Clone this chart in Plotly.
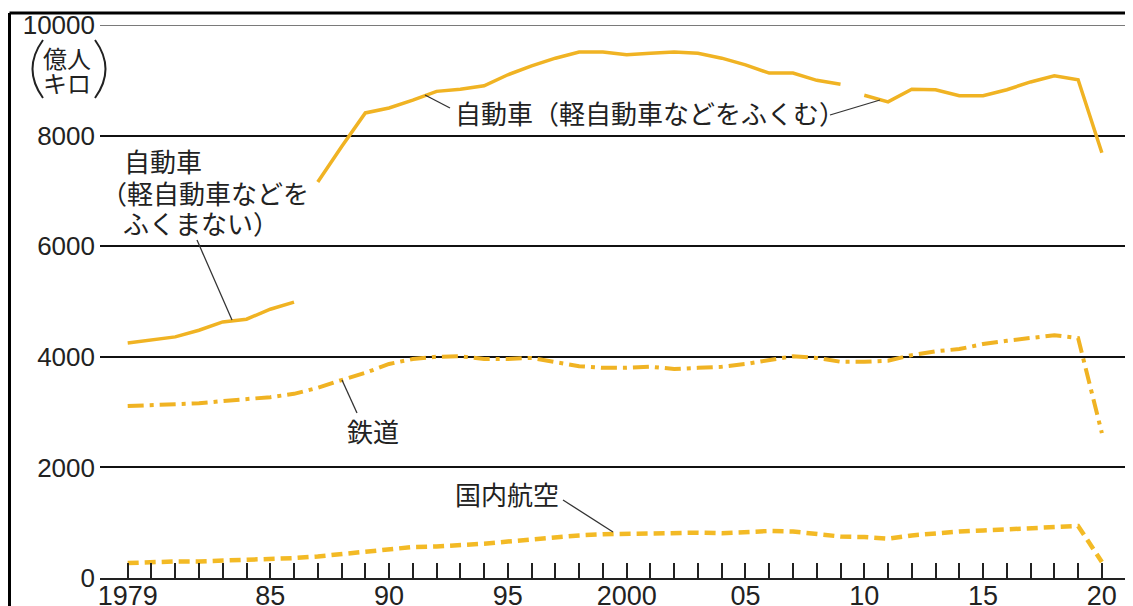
import plotly.graph_objects as go

# ---------------- data (億人キロ) ----------------
years = list(range(1979, 2021))

car_excl_years = list(range(1979, 1987))
car_excl = [4250, 4300, 4360, 4480, 4630, 4680, 4860, 4990]

car_incl_years_a = list(range(1987, 2010))
car_incl_a = [7160, 7800, 8410, 8500, 8640, 8800, 8840, 8900, 9100, 9260, 9400,
              9510, 9510, 9460, 9490, 9510, 9490, 9400, 9280, 9130, 9130, 9000, 8930]
car_incl_years_b = list(range(2010, 2021))
car_incl_b = [8730, 8610, 8840, 8830, 8720, 8720, 8830, 8970, 9080, 9010, 7690]

rail = [3110, 3130, 3150, 3160, 3200, 3240, 3270, 3330, 3440, 3580, 3710,
        3870, 3960, 4000, 4010, 3960, 3960, 3980, 3910, 3830, 3800, 3800,
        3820, 3780, 3800, 3820, 3870, 3940, 4010, 3980, 3910, 3910, 3930,
        4030, 4100, 4140, 4230, 4290, 4340, 4390, 4340, 2620]

air = [270, 290, 300, 300, 310, 320, 340, 360, 390, 430, 480,
       520, 560, 570, 590, 620, 660, 700, 740, 770, 790, 800,
       810, 830, 820, 810, 830, 850, 840, 800, 750, 740, 710,
       770, 810, 840, 860, 880, 910, 940, 940, 290]

x_tick_labels = {1979: "1979", 1985: "85", 1990: "90", 1995: "95", 2000: "2000",
                 2005: "05", 2010: "10", 2015: "15", 2020: "20"}
y_ticks = [0, 2000, 4000, 6000, 8000, 10000]

# ---------------- styling ----------------
BODY = 8                      # default page margin around the plot div
W, H = 1133 - BODY, 606 - BODY
PL, PT, PR, PB = 100, 25, 1129, 578   # plot area on screen
ML, MT = PL - BODY, PT - BODY
MR, MB = BODY + W - PR, BODY + H - PB
X0, X1 = 1977.834, 2021.142
PW, PH = PR - PL, PB - PT
CAR = "#F0B323"
RAIL = "#F0B323"
AIR = "#F3BA25"
TXT = "#222222"
JP = "Noto Sans CJK JP"


def dx(px):
    return X0 + (px - PL) / PW * (X1 - X0)


def dy(py):
    return (PB - py) / PH * 10000


def paper_x(px):
    return (px - PL) / PW


def paper_y(py):
    return (PB - py) / PH


fig = go.Figure()
fig.add_trace(go.Scatter(x=car_excl_years, y=car_excl, mode="lines",
                         line=dict(color=CAR, width=3.5), hoverinfo="skip"))
fig.add_trace(go.Scatter(x=car_incl_years_a, y=car_incl_a, mode="lines",
                         line=dict(color=CAR, width=3.5), hoverinfo="skip"))
fig.add_trace(go.Scatter(x=car_incl_years_b, y=car_incl_b, mode="lines",
                         line=dict(color=CAR, width=3.5), hoverinfo="skip"))
fig.add_trace(go.Scatter(x=years, y=rail, mode="lines",
                         line=dict(color=RAIL, width=4, dash="16px,6px,4px,6px"),
                         hoverinfo="skip"))
fig.add_trace(go.Scatter(x=years, y=air, mode="lines",
                         line=dict(color=AIR, width=4.5, dash="11px,6px"),
                         hoverinfo="skip"))

shapes = []
# top gridline grey
shapes.append(dict(type="line", xref="paper", yref="y", x0=0, x1=1, y0=10000, y1=10000,
                   line=dict(color="#7a7a7a", width=2), layer="above"))
# frame
shapes.append(dict(type="line", xref="paper", yref="paper", x0=paper_x(9.5), x1=1.05,
                   y0=paper_y(13), y1=paper_y(13), line=dict(color="black", width=3)))
shapes.append(dict(type="line", xref="paper", yref="paper", x0=paper_x(9.5), x1=paper_x(9.5),
                   y0=paper_y(13), y1=-0.1, line=dict(color="black", width=3)))
# unit parentheses
shapes.append(dict(type="path", xref="paper", yref="paper",
                   path=f"M {paper_x(43)},{paper_y(40)} Q {paper_x(22)},{paper_y(69)} {paper_x(43)},{paper_y(98)}",
                   line=dict(color=TXT, width=2)))
shapes.append(dict(type="path", xref="paper", yref="paper",
                   path=f"M {paper_x(95)},{paper_y(40)} Q {paper_x(116)},{paper_y(69)} {paper_x(95)},{paper_y(98)}",
                   line=dict(color=TXT, width=2)))

# leader lines (screen pixel positions -> data coords)
leaders = [((425, 95), (450, 108)),
           ((830, 115), (880, 100)),
           ((197, 240), (232, 320)),
           ((342, 380), (357, 413)),
           ((563, 500), (613, 532))]
for (ax, ay), (bx, by) in leaders:
    shapes.append(dict(type="line", xref="x", yref="y", x0=dx(ax), y0=dy(ay),
                       x1=dx(bx), y1=dy(by), line=dict(color="#333333", width=1.3)))

annotations = []


def label(text, px, py, xanchor="center", size=26):
    annotations.append(dict(text=text, x=paper_x(px), y=paper_y(py), xref="paper", yref="paper",
                            xanchor=xanchor, yanchor="middle", showarrow=False,
                            font=dict(family=JP, size=size, color=TXT)))


label("自動車（軽自動車などをふくむ）", 650, 113)
label("自動車", 122, 160, xanchor="left")
label("（軽自動車などを", 99, 193, xanchor="left")
label("ふくまない）", 121, 223, xanchor="left")
label("鉄道", 373, 430)
label("国内航空", 507, 493)
label("億人", 67, 57, size=24)
label("キロ", 67, 82, size=24)

fig.update_layout(
    width=W, height=H, autosize=False,
    margin=dict(l=ML, r=MR, t=MT, b=MB, pad=0, autoexpand=False),
    paper_bgcolor="white", plot_bgcolor="white",
    showlegend=False,
    shapes=shapes, annotations=annotations,
    xaxis=dict(range=[X0, X1], tickmode="array", tickvals=years,
               ticktext=[x_tick_labels.get(y, "") for y in years],
               ticks="inside", ticklen=15, tickwidth=1.5, tickcolor="#222",
               showline=True, linecolor="#222", linewidth=2,
               showgrid=False, zeroline=False, automargin=False,
               ticklabelstandoff=-7,
               tickfont=dict(family="Liberation Sans", size=27, color=TXT)),
    yaxis=dict(range=[0, 10000], tickmode="array", tickvals=y_ticks,
               ticktext=[str(v) for v in y_ticks],
               showgrid=True, gridcolor="#111", gridwidth=1.6,
               zeroline=False, showline=False, ticks="", automargin=False,
               ticklabelstandoff=4,
               tickfont=dict(family="Liberation Sans", size=26, color=TXT)),
)

fig.write_html("out.html")
